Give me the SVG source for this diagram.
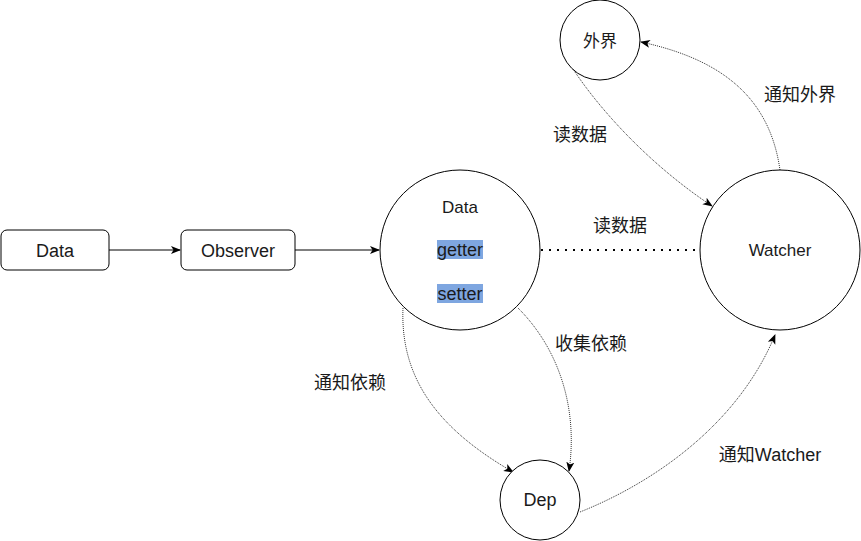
<svg xmlns="http://www.w3.org/2000/svg" width="861" height="541" viewBox="0 0 861 541">
<style>
.n{fill:#fff;stroke:#000;stroke-width:1}
.t{font-family:"Liberation Sans","Noto Sans CJK SC",sans-serif;font-size:18px;fill:#1a1a1a;text-anchor:middle}
.solid{fill:none;stroke:#000;stroke-width:1}
.dot{fill:none;stroke:#333;stroke-width:1;stroke-dasharray:1 1}
.hl{fill:#7ea6e0}
</style>
<defs>
<marker id="ah" viewBox="0 0 10 10" refX="9" refY="5" markerWidth="10" markerHeight="10" markerUnits="userSpaceOnUse" orient="auto">
<path d="M0,1 L10,5 L0,9 L2.5,5 Z" fill="#000"/>
</marker>
</defs>
<rect width="861" height="541" fill="#fff"/>
<g id="connectors">
<path class="solid" d="M109,250 H180" marker-end="url(#ah)"/>
<path class="solid" d="M295,250 H379" marker-end="url(#ah)"/>
<path d="M541,250 H700" fill="none" stroke="#000" stroke-width="2" stroke-dasharray="2 6"/>
<path class="dot" d="M573,69 C600,110 650,165 712,206" marker-end="url(#ah)"/>
<path class="dot" d="M780,170 C770,100 725,60 641,42" marker-end="url(#ah)"/>
<path class="dot" d="M403,308 C400,380 440,430 513,472" marker-end="url(#ah)"/>
<path class="dot" d="M518,308 C560,350 578,410 569,471" marker-end="url(#ah)"/>
<path class="dot" d="M580,512 C660,480 740,420 775,335" marker-end="url(#ah)"/>
</g>
<g id="labels">
<text class="t" x="580" y="141">读数据</text>
<text class="t" x="800" y="101">通知外界</text>
<text class="t" x="620" y="232">读数据</text>
<text class="t" x="591" y="350">收集依赖</text>
<text class="t" x="350" y="389">通知依赖</text>
<text class="t" x="770" y="461">通知Watcher</text>
</g>
<g id="data-box">
<rect class="n" x="1" y="230" width="108" height="40" rx="6"/>
<text class="t" x="55" y="257">Data</text>
</g>
<g id="observer-box">
<rect class="n" x="181" y="230" width="114" height="40" rx="6"/>
<text class="t" x="238" y="257">Observer</text>
</g>
<g id="data-circle">
<circle class="n" cx="460" cy="250" r="80"/>
<text class="t" x="460" y="213" style="font-size:17px">Data</text>
<rect class="hl" x="437" y="240" width="46" height="19"/>
<text class="t" x="460" y="256">getter</text>
<rect class="hl" x="437" y="284" width="46" height="19"/>
<text class="t" x="460" y="300">setter</text>
</g>
<g id="watcher">
<circle class="n" cx="780" cy="250" r="80"/>
<text class="t" x="780" y="256" style="font-size:17px">Watcher</text>
</g>
<g id="outside">
<circle class="n" cx="600" cy="40" r="40"/>
<text class="t" x="600" y="47" style="font-size:17px">外界</text>
</g>
<g id="dep">
<circle class="n" cx="540" cy="500" r="40"/>
<text class="t" x="540" y="506">Dep</text>
</g>
</svg>
